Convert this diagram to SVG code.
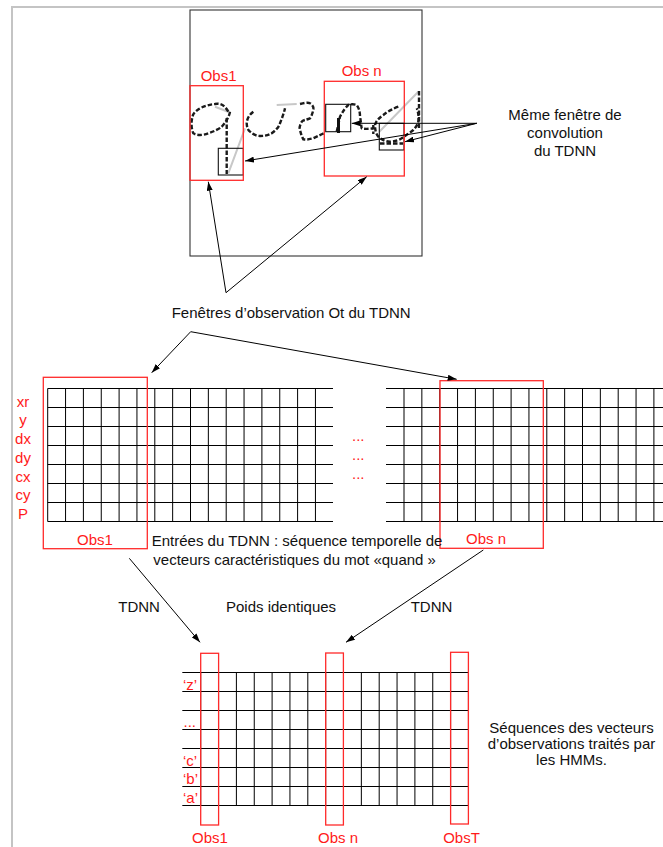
<svg xmlns="http://www.w3.org/2000/svg" width="663" height="847" viewBox="0 0 663 847">
<style>
text{font-family:"Liberation Sans",Arial,sans-serif;font-size:15px;fill:#111}
.red{fill:#ff1a1a}
.grid{stroke:#000;stroke-width:1;fill:none}
.rbox{stroke:#ff2a2a;stroke-width:1.3;fill:none}
.bbox{stroke:#111;stroke-width:1.1;fill:none}
.ink{stroke:#1a1a1a;stroke-width:2.4;fill:none;stroke-dasharray:4.5 2;stroke-linecap:butt;stroke-linejoin:round}
.faint{stroke:#c8c8c8;stroke-width:2;fill:none}
.conn{stroke:#000;stroke-width:1;fill:none;marker-end:url(#ah)}
.plain{stroke:#000;stroke-width:1;fill:none}
</style>
<defs>
<marker id="ah" markerWidth="9" markerHeight="6" refX="9" refY="3" orient="auto" markerUnits="userSpaceOnUse">
<path d="M0,0 L9,3 L0,6 z" fill="#000"/>
</marker>
</defs>
<rect x="0" y="0" width="663" height="847" fill="#fff"/>
<g id="frame">
<path d="M11,7 H663 M12,7 V847" stroke="#c4c4c4" stroke-width="2" fill="none"/>
</g>

<g id="word-image">
<rect x="190" y="10" width="232" height="246" fill="none" stroke="#333" stroke-width="1.1"/>
<path class="faint" d="M215,106.7 L228,111.7 M228.3,173.3 L245,128.3 M276.7,105 L296.7,104 M379.3,131.7 L418.3,91.7"/>
<path class="ink" d="M228.3,111.7 C224,104 219,103 215,104 C205,105 196,109 193,115 C191,121 191,128 193.3,133.3 C198,136 204,135 208.3,133.3 C215,131 219,129 221.7,126.7 C226,122 229,117 230,111.7"/>
<path class="ink" d="M226.7,118 V174"/>
<path class="ink" d="M253.3,111.7 C249,115 247,119 246.7,123.3 C247,128 248,130 250,131.7 C254,135 257,136 260,136 C265,136 269,135 271.7,133.3 C276,130 279,127 280,123.3 C282,118 284,113 285,108.3"/>
<path class="ink" d="M300,104 C304,103 308,102 310,103.3 C313,105 314,108 313.3,110 C312,115 311,117 310,118.3 C306,120 303,120 301.7,121.7 C300,125 299,128 300,130 C301,134 302,137 303.3,139.3 C307,140 310,139 313.3,138.3 C318,136 322,134 325,132.7"/>
<path class="ink" d="M336.7,131.7 C338,126 339,121 340,116.7 C343,111 346,107 348.3,105 C351,104 354,104 356.7,105 C359,108 360,112 360,116.7 C361,121 361,125 361.7,128.3 C364,129 368,129 373.3,128.3"/>
<path d="M338.5,118 V133" stroke="#111" stroke-width="3" fill="none"/>
<path class="ink" d="M373.3,125 V134"/>
<path class="ink" d="M398.3,106.7 C392,109 387,112 383.3,115 C379,118 376,121 375,125 C375,130 376,134 378.3,136.7 C382,140 386,141.5 390,141.7 C395,141.5 399,140 401.7,138.3 C406,135 410,133 413.3,130 C416,127 418,124 418.3,121.7 C419,116 418,111 416.7,108.3"/>
<path class="ink" d="M380,143.5 H403"/>
<path class="ink" d="M419,91 V128"/>
<rect class="bbox" x="218.3" y="148.3" width="25" height="26.7"/>
<rect class="bbox" x="325.7" y="104.3" width="25" height="27.4"/>
<rect class="bbox" x="379.3" y="123.3" width="24.7" height="26.7"/>
</g>

<g id="top-obs1">
<rect class="rbox" x="190" y="85.7" width="53.3" height="94.6"/>
<text class="red" x="200.7" y="81">Obs1</text>
</g>
<g id="top-obsn">
<rect class="rbox" x="324.3" y="81.3" width="80" height="94.7"/>
<text class="red" x="341.7" y="76">Obs n</text>
</g>

<g id="label-meme">
<text x="565" y="120" text-anchor="middle">Même fenêtre de</text>
<text x="565" y="137.5" text-anchor="middle">convolution</text>
<text x="565" y="155.5" text-anchor="middle">du TDNN</text>
</g>

<g id="label-fenetres">
<text x="171.7" y="317.7">Fenêtres d’observation Ot du TDNN</text>
</g>

<g id="input-grid">
<path class="grid" d="M47.7,388.5 H333 M47.7,407.5 H333 M47.7,426.5 H333 M47.7,445.5 H333 M47.7,464.5 H333 M47.7,483.5 H333 M47.7,502.5 H333 M47.7,521.5 H333
M386,388.5 H663 M386,407.5 H663 M386,426.5 H663 M386,445.5 H663 M386,464.5 H663 M386,483.5 H663 M386,502.5 H663 M386,521.5 H663
M47.7,388.5 V521.5 M65.55,388.5 V521.5 M83.4,388.5 V521.5 M101.25,388.5 V521.5 M119.1,388.5 V521.5 M136.95,388.5 V521.5 M154.8,388.5 V521.5 M172.65,388.5 V521.5 M190.5,388.5 V521.5 M208.35,388.5 V521.5 M226.2,388.5 V521.5 M244.05,388.5 V521.5 M261.9,388.5 V521.5 M279.75,388.5 V521.5 M297.6,388.5 V521.5 M315.45,388.5 V521.5
M404,388.5 V521.5 M421.85,388.5 V521.5 M439.7,388.5 V521.5 M457.55,388.5 V521.5 M475.4,388.5 V521.5 M493.25,388.5 V521.5 M511.1,388.5 V521.5 M528.95,388.5 V521.5 M546.8,388.5 V521.5 M564.65,388.5 V521.5 M582.5,388.5 V521.5 M600.35,388.5 V521.5 M618.2,388.5 V521.5 M636.05,388.5 V521.5 M653.9,388.5 V521.5"/>
<g class="red-labels">
<text class="red" x="23" y="406.7" text-anchor="middle">xr</text>
<text class="red" x="23" y="425.4" text-anchor="middle">y</text>
<text class="red" x="23" y="444.1" text-anchor="middle">dx</text>
<text class="red" x="23" y="462.8" text-anchor="middle">dy</text>
<text class="red" x="23" y="481.5" text-anchor="middle">cx</text>
<text class="red" x="23" y="500.2" text-anchor="middle">cy</text>
<text class="red" x="23" y="518.9" text-anchor="middle">P</text>
<text class="red" x="352" y="440.5">...</text>
<text class="red" x="352" y="459.5">...</text>
<text class="red" x="352" y="478.5">...</text>
</g>
</g>
<g id="mid-obs1">
<rect class="rbox" x="43.3" y="377.3" width="104" height="171.4"/>
<text class="red" x="95" y="545" text-anchor="middle">Obs1</text>
</g>
<g id="mid-obsn">
<rect class="rbox" x="440" y="380.7" width="103.3" height="167.6"/>
<text class="red" x="486" y="544" text-anchor="middle">Obs n</text>
</g>

<g id="label-entrees">
<text x="151.7" y="545.7">Entrées du TDNN : séquence temporelle de</text>
<text x="153.3" y="565">vecteurs caractéristiques du mot «quand »</text>
</g>

<g id="label-tdnn-left"><text x="118.3" y="612.3">TDNN</text></g>
<g id="label-poids"><text x="226" y="612.3">Poids identiques</text></g>
<g id="label-tdnn-right"><text x="410.7" y="612.3">TDNN</text></g>

<g id="output-grid">
<path class="grid" d="M182.3,672.5 H468.45 M182.3,691.5 H468.45 M182.3,710.5 H468.45 M182.3,729.5 H468.45 M182.3,748.5 H468.45 M182.3,767.5 H468.45 M182.3,786.5 H468.45 M182.3,805.5 H468.45
M200.7,672.5 V805.5 M218.55,672.5 V805.5 M236.4,672.5 V805.5 M254.25,672.5 V805.5 M272.1,672.5 V805.5 M289.95,672.5 V805.5 M307.8,672.5 V805.5 M325.65,672.5 V805.5 M343.5,672.5 V805.5 M361.35,672.5 V805.5 M379.2,672.5 V805.5 M397.05,672.5 V805.5 M414.9,672.5 V805.5 M432.75,672.5 V805.5 M450.6,672.5 V805.5 M468.45,672.5 V805.5"/>
<text class="red" x="183" y="690">‘z’</text>
<text class="red" x="183.5" y="727">...</text>
<text class="red" x="183" y="766">‘c’</text>
<text class="red" x="183" y="784">‘b’</text>
<text class="red" x="183" y="803">‘a’</text>
</g>
<g id="out-obs1">
<rect class="rbox" x="200.7" y="653.3" width="17.9" height="171.7"/>
<text class="red" x="210" y="843" text-anchor="middle">Obs1</text>
</g>
<g id="out-obsn">
<rect class="rbox" x="325.7" y="653" width="17.7" height="172"/>
<text class="red" x="338" y="843" text-anchor="middle">Obs n</text>
</g>
<g id="out-obsT">
<rect class="rbox" x="450.6" y="652.3" width="17.8" height="171.7"/>
<text class="red" x="461.5" y="843" text-anchor="middle">ObsT</text>
</g>

<g id="label-sequences">
<text x="571.5" y="733.3" text-anchor="middle">Séquences des vecteurs</text>
<text x="571.5" y="749.3" text-anchor="middle">d’observations traités par</text>
<text x="571.5" y="765.3" text-anchor="middle">les HMMs.</text>
</g>

<g id="connectors">
<path class="conn" d="M476.7,123.3 L351.7,123.3"/>
<path class="conn" d="M476.7,123.3 L405,141.7"/>
<path class="conn" d="M476.7,123.3 L245,161"/>
<path class="conn" d="M226,292.7 L208.3,181.7"/>
<path class="conn" d="M226,292.7 L366.7,176.7"/>
<path class="conn" d="M190.7,331.7 L151.7,372.7"/>
<path class="conn" d="M190.7,331.7 L456.7,379.3"/>
<path class="conn" d="M129.3,558.3 L200,642.3"/>
<path class="conn" d="M483.3,550 L346,642.3"/>
</g>
</svg>
